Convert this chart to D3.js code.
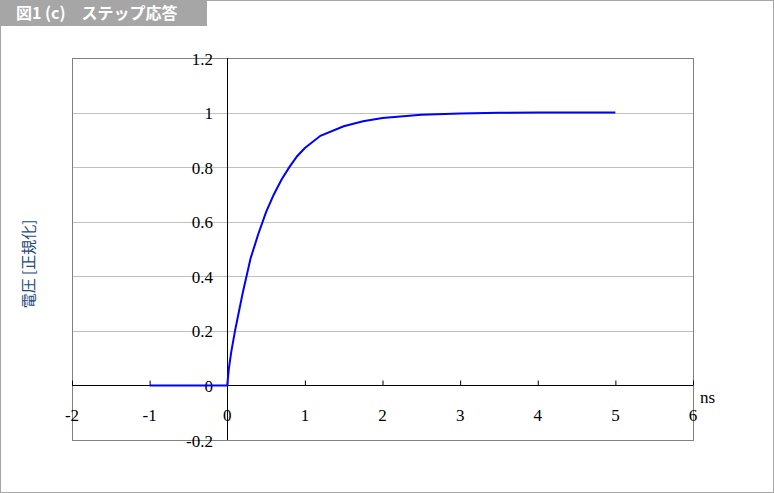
<!DOCTYPE html>
<html><head><meta charset="utf-8">
<script src="https://cdn.jsdelivr.net/npm/d3@7"></script>
<style>body{margin:0;background:#fff;}svg{display:block;}</style>
</head><body>
<svg id="c" width="774" height="493"></svg>
<script>
const timeNs = [-1, 0, 0.02, 0.05, 0.1, 0.15, 0.2, 0.3, 0.4, 0.5, 0.6, 0.7, 0.8, 0.9, 1.0, 1.2, 1.5, 1.75, 2.0, 2.5, 3.0, 3.5, 4.0, 4.5, 5.0];
const voltage = [0, 0, 0.06, 0.12, 0.2, 0.27, 0.34, 0.465, 0.555, 0.635, 0.70, 0.755, 0.80, 0.84, 0.87, 0.915, 0.95, 0.968, 0.98, 0.992, 0.997, 0.999, 1.0, 1.0, 1.0];
const xTicks = [-2, -1, 0, 1, 2, 3, 4, 5, 6];
const yTicks = [-0.2, 0, 0.2, 0.4, 0.6, 0.8, 1, 1.2];
const titleText = "図1 (c)　ステップ応答";
const yLabel = "電圧 [正規化]";
const xUnit = "ns";

const svg = d3.select("#c");
const W = 774, H = 493;
svg.append("rect").attr("x",0.5).attr("y",0.5).attr("width",W-1).attr("height",H-1)
  .attr("fill","#fff").attr("stroke","#a6a6a6");
svg.append("rect").attr("x",0).attr("y",0).attr("width",207).attr("height",26).attr("fill","#a6a6a6");
svg.append("text").attr("x",16).attr("y",19).attr("fill","#fff")
  .attr("font-family","'Noto Sans CJK JP', sans-serif").attr("font-weight","bold").attr("font-size",16)
  .text(titleText);

const L = 72, R = 693, T = 58, B = 440;
const x = d3.scaleLinear().domain([-2, 6]).range([L, R]);
const y = d3.scaleLinear().domain([-0.2, 1.2]).range([B, T]);

// gridlines
svg.append("g").selectAll("line").data(yTicks.filter(d => d > -0.2 && d < 1.2)).join("line")
  .attr("x1", L).attr("x2", R).attr("y1", d => Math.round(y(d))+0.5).attr("y2", d => Math.round(y(d))+0.5)
  .attr("stroke", "#c0c0c0").attr("stroke-width", 1);
// plot border
svg.append("rect").attr("x", L+0.5).attr("y", T+0.5).attr("width", R-L).attr("height", B-T)
  .attr("fill","none").attr("stroke","#808080");

// x axis at y=0
const x0 = Math.round(y(0))+0.5;
const xAxis = d3.axisTop(x).tickValues(xTicks).tickSize(5).tickFormat("");
const gx = svg.append("g").attr("transform", `translate(0,${x0})`).call(xAxis);
gx.select(".domain").attr("stroke","#000").attr("d", `M${L},0H${R}`);
gx.selectAll(".tick line").attr("stroke","#000");
svg.append("g").selectAll("text").data(xTicks).join("text")
  .attr("x", d => x(d)).attr("y", 421).attr("text-anchor","middle")
  .attr("font-family","'Liberation Serif', serif").attr("font-size",17).attr("fill","#000")
  .text(d => d);
svg.append("text").attr("x", 700).attr("y", 403).attr("font-family","'Liberation Serif', serif")
  .attr("font-size",17).attr("fill","#000").text(xUnit);

// y axis at x=0
const y0 = Math.round(x(0))+0.5;
const yAxis = d3.axisLeft(y).tickValues(yTicks).tickSize(0).tickFormat("");
const gy = svg.append("g").attr("transform", `translate(${y0},0)`).call(yAxis);
gy.select(".domain").attr("stroke","#000").attr("d", `M0,${T}V${B}`);
svg.append("g").selectAll("text").data(yTicks).join("text")
  .attr("x", 213).attr("y", d => y(d) + 6.5).attr("text-anchor","end")
  .attr("font-family","'Liberation Serif', serif").attr("font-size",17).attr("fill","#000")
  .text(d => d);

svg.append("text").attr("transform","translate(34,264) rotate(-90)").attr("text-anchor","middle")
  .attr("font-family","'Noto Sans CJK JP', sans-serif").attr("font-size",15).attr("fill","#1f497d")
  .text(yLabel);

// curve
const line = d3.line().x((d,i) => x(timeNs[i])).y(d => y(d));
svg.append("path").datum(voltage).attr("d", line).attr("fill","none")
  .attr("stroke","#0000ff").attr("stroke-width",2);
</script>
</body></html>
